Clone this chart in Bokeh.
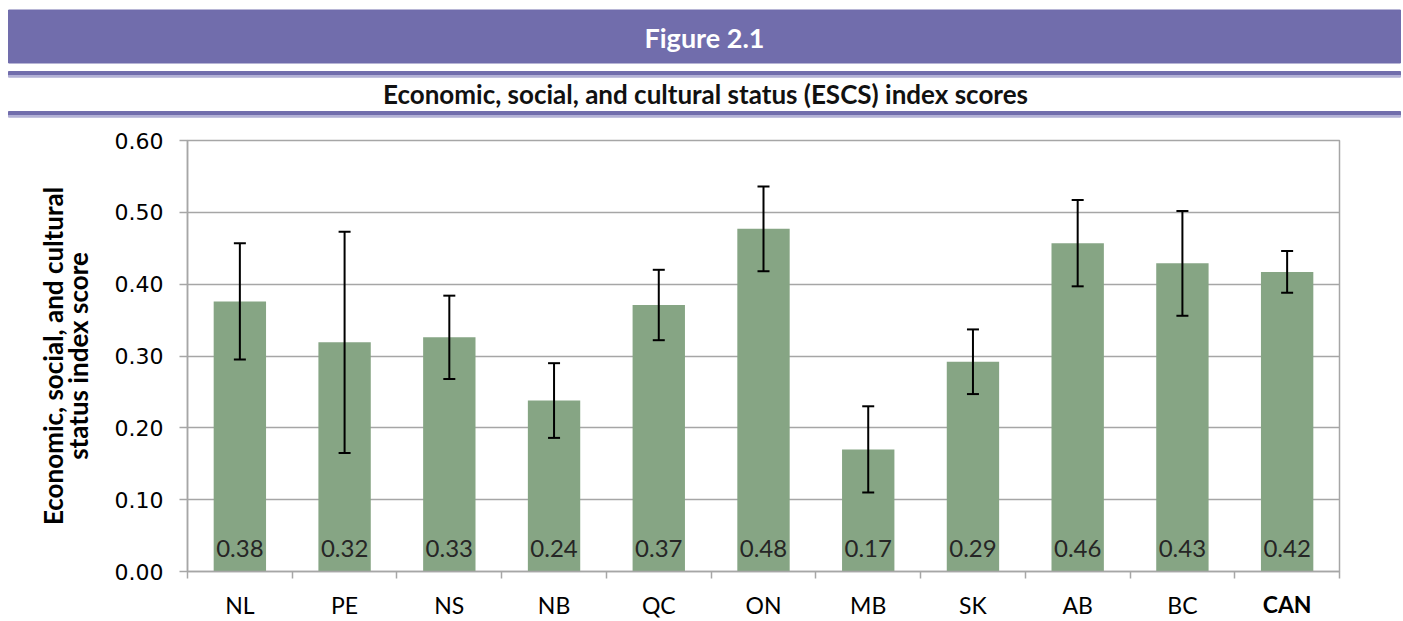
import numpy as np
from bokeh.plotting import figure
from bokeh.models import (ColumnDataSource, Range1d, FixedTicker, Whisker, TeeHead,
                          LabelSet, NumeralTickFormatter, LinearAxis)
from bokeh.layouts import column
from bokeh.embed import file_html
from bokeh.resources import INLINE
from bokeh.core.properties import value

# ---------------- data ----------------
categories = ["NL", "PE", "NS", "NB", "QC", "ON", "MB", "SK", "AB", "BC", "CAN"]
scores = [0.376, 0.319, 0.326, 0.238, 0.371, 0.477, 0.170, 0.292, 0.457, 0.429, 0.417]
errors = [0.081, 0.154, 0.058, 0.052, 0.049, 0.059, 0.060, 0.045, 0.060, 0.073, 0.029]
score_labels = ["0.38", "0.32", "0.33", "0.24", "0.37", "0.48", "0.17", "0.29", "0.46", "0.43", "0.42"]
y_ticks = [0.0, 0.1, 0.2, 0.3, 0.4, 0.5, 0.6]
figure_title = "Figure 2.1"
chart_title = "Economic, social, and cultural status (ESCS) index scores"
y_label = "Economic, social, and cultural\nstatus index score"
bold_category = "CAN"

# ---------------- style ----------------
PURPLE = "#716DAC"
PURPLE_LIGHT = "#B3B1D6"
BAR = "#86A584"
GRID = "#A6A6A6"
FONT = "Lato"
W = 1403
HDR_H = 118
MAIN_H = 503
XLAB_SIZE = 23
XLAB_STANDOFF = 12
XLAB_EXTENT = 32  # measured height of a 23px label box


def plain(fig):
    fig.grid.visible = False
    fig.outline_line_color = None
    if hasattr(fig, "frame_align"):
        fig.frame_align = False


# ---------------- header ----------------
hdr = figure(width=W, height=HDR_H, x_range=Range1d(0, W), y_range=Range1d(HDR_H, 0),
             toolbar_location=None, output_backend="svg", min_border=0,
             x_axis_location=None, y_axis_location=None)
plain(hdr)
hdr.quad(left=8, right=1400, top=9.5, bottom=62.5, color=PURPLE)
hdr.quad(left=8, right=1400, top=71, bottom=75, color=PURPLE)
hdr.quad(left=8, right=1400, top=75, bottom=76.7, color=PURPLE_LIGHT)
hdr.quad(left=8, right=1400, top=111, bottom=115, color=PURPLE)
hdr.quad(left=8, right=1400, top=115, bottom=116.7, color=PURPLE_LIGHT)
hdr.text(x=[704], y=[37], text=[figure_title], text_align="center", text_baseline="middle",
         text_color="white", text_font=value(FONT), text_font_style="bold", text_font_size="27px")
hdr.text(x=[705], y=[93], text=[chart_title], text_align="center", text_baseline="middle",
         text_color="#111111", text_font=value(FONT), text_font_style="bold", text_font_size="26px")

# ---------------- main chart ----------------
n = len(categories)
xs = [i + 0.5 for i in range(n)]
bounds = list(range(n + 1))
src = ColumnDataSource(dict(
    x=xs, score=scores, label=score_labels, base=[0.0] * n,
    upper=[s + e for s, e in zip(scores, errors)],
    lower=[s - e for s, e in zip(scores, errors)],
))

p = figure(width=W, height=MAIN_H, x_range=Range1d(0, n), y_range=Range1d(y_ticks[0], y_ticks[-1]),
           toolbar_location=None, output_backend="svg",
           min_border_left=187, min_border_right=64, min_border_top=22, min_border_bottom=49)
if hasattr(p, "frame_align"):
    p.frame_align = False
p.outline_line_color = GRID
p.outline_line_width = 1.5
p.xgrid.visible = False
p.ygrid.ticker = FixedTicker(ticks=y_ticks)
p.ygrid.grid_line_color = GRID
p.ygrid.grid_line_width = 1.5

p.vbar(x="x", top="score", bottom="base", width=0.5, source=src, fill_color=BAR, line_color=None)

whisk = Whisker(source=src, base="x", upper="upper", lower="lower", level="overlay",
                line_color="black", line_width=2,
                upper_head=TeeHead(size=12, line_color="black", line_width=2),
                lower_head=TeeHead(size=12, line_color="black", line_width=2))
p.add_layout(whisk)

vals = LabelSet(x="x", y="base", text="label", source=src, y_offset=15,
                text_align="center", text_baseline="alphabetic",
                text_color="#262626", text_font=value(FONT), text_font_size="24px")
p.add_layout(vals)

# x axis: labels at centres, ticks at category boundaries
xa = p.xaxis[0]
xa.ticker = FixedTicker(ticks=xs, minor_ticks=bounds)
xa.major_label_overrides = {x: (c if c != bold_category else "") for x, c in zip(xs, categories)}
xa.major_tick_out = 0
xa.major_tick_in = 0
xa.minor_tick_out = 7
xa.minor_tick_in = 0
xa.minor_tick_line_color = GRID
xa.minor_tick_line_width = 1.5
xa.axis_line_color = GRID
xa.axis_line_width = 1.5
xa.major_label_standoff = XLAB_STANDOFF
xa.major_label_text_font = FONT
xa.major_label_text_font_size = f"{XLAB_SIZE}px"
xa.major_label_text_color = "#000000"

# second axis, same row, carrying the bold total label
bold_x = [x for x, c in zip(xs, categories) if c == bold_category]
xa2 = LinearAxis(ticker=FixedTicker(ticks=bold_x, minor_ticks=[]),
                 major_label_overrides={bold_x[0]: bold_category})
xa2.axis_line_color = None
xa2.major_tick_out = 0
xa2.major_tick_in = 0
xa2.minor_tick_out = 0
xa2.minor_tick_in = 0
xa2.major_label_standoff = -XLAB_EXTENT
xa2.major_label_text_font = FONT
xa2.major_label_text_font_style = "bold"
xa2.major_label_text_font_size = f"{XLAB_SIZE}px"
xa2.major_label_text_color = "#000000"
p.add_layout(xa2, "below")

ya = p.yaxis[0]
ya.ticker = FixedTicker(ticks=y_ticks)
ya.formatter = NumeralTickFormatter(format="0.00")
ya.major_tick_out = 8
ya.major_tick_in = 0
ya.minor_tick_out = 0
ya.minor_tick_in = 0
ya.major_tick_line_color = GRID
ya.major_tick_line_width = 1.5
ya.axis_line_color = GRID
ya.axis_line_width = 1.5
ya.major_label_standoff = 16
ya.major_label_text_font = "DejaVu Sans"
ya.major_label_text_font_size = "22px"
ya.major_label_text_color = "#000000"
ya.axis_label = y_label
ya.axis_label_standoff = 18
ya.axis_label_text_font = FONT
ya.axis_label_text_font_style = "bold"
ya.axis_label_text_font_size = "26px"
ya.axis_label_text_color = "#000000"
ya.axis_label_text_line_height = 0.78

layout = column(hdr, p, spacing=0)
open("out.html", "w").write(file_html(layout, INLINE))
